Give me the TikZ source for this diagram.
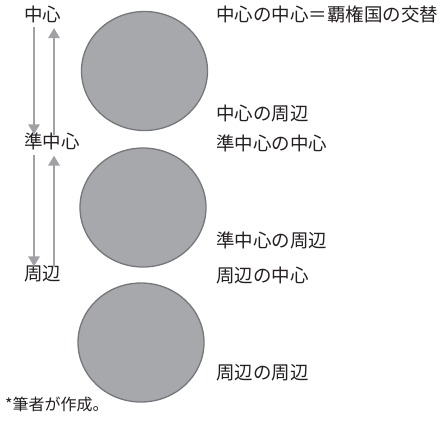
\documentclass[tikz,border=0pt]{standalone}
\usepackage{fontspec}
\setmainfont{Noto Sans CJK JP}
\usetikzlibrary{arrows.meta,shapes.geometric}
\definecolor{blobfill}{RGB}{167,168,172}
\definecolor{blobline}{RGB}{118,119,123}
\definecolor{flowgray}{RGB}{160,161,164}
\definecolor{inkgray}{RGB}{35,31,32}
\tikzset{
  blob/.style={ellipse,draw=blobline,fill=blobfill,line width=1.3pt,inner sep=0pt,
    minimum width=126pt,minimum height=119pt},
  lbl/.style={anchor=west,inner sep=0pt,text=inkgray,text height=0.8em,text depth=0.07em,
    font=\fontsize{18.5}{20}\selectfont},
  flow/.style={draw=flowgray,line width=2.8pt,-{Triangle[width=11pt,length=10pt]},
    shorten <=5pt,shorten >=6pt},
}
\begin{document}
\begin{tikzpicture}[x=1pt,y=-1pt]
\useasboundingbox (0,0) rectangle (444,421);
\def\blob#1#2#3{
\node [blob] (#1) at (#2,#3) {};
}
\blob{c1}{144.5}{71}
\blob{c2}{143}{207.5}
\blob{c3}{141}{342.5}
% levels
\node [lbl] (zc) at (24,17.5) {中心};
\node [lbl] (jzc) at (24,145) {準中心};
\node [lbl] (sh) at (24,277) {周辺};
\draw [flow] ([xshift=10pt]zc.south west) -- ([xshift=10pt]zc.south west |- jzc.north);
\draw [flow] ([xshift=30pt]zc.south west |- jzc.north) -- ([xshift=30pt]zc.south west);
\draw [flow] ([xshift=10pt]jzc.south west) -- ([xshift=10pt]jzc.south west |- sh.north);
\draw [flow] ([xshift=30pt]jzc.south west |- sh.north) -- ([xshift=30pt]jzc.south west);
% right side
\node [lbl] (r1) at (216,18) {中心の中心＝覇権国の交替};
\node [lbl] (r2) at (216,117) {中心の周辺};
\node [lbl] (r3) at (216,147) {準中心の中心};
\node [lbl] (r4) at (216,244) {準中心の周辺};
\node [lbl] (r5) at (216,279) {周辺の中心};
\node [lbl] (r6) at (216,376) {周辺の周辺};
\node [lbl,font=\fontsize{16}{18}\selectfont] (src) at (5,407) {*筆者が作成。};
\end{tikzpicture}
\end{document}
